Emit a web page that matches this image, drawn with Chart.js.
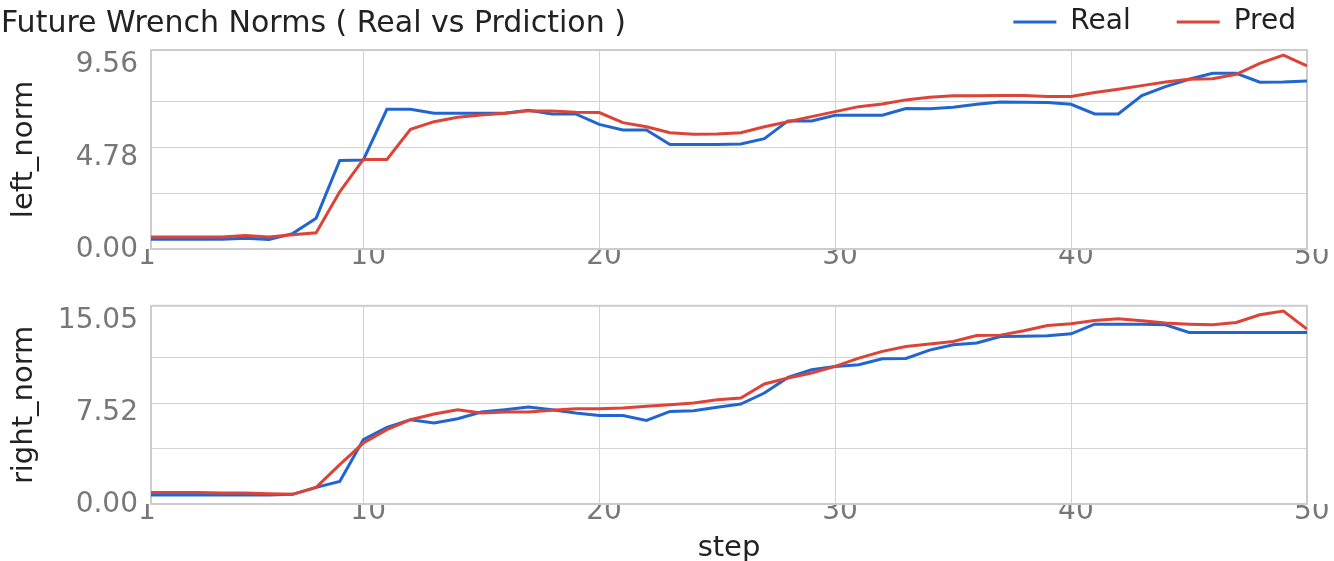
<!DOCTYPE html>
<html>
<head>
<meta charset="utf-8">
<script src="https://cdn.jsdelivr.net/npm/chart.js@4.4.1/dist/chart.umd.min.js"></script>
<style>
  html, body { margin: 0; padding: 0; width: 1334px; height: 561px; overflow: hidden; background: #fff; }
  #title { position: absolute; left: 1px; top: 7px; font-family: "DejaVu Sans"; font-size: 30px; line-height: 30px; color: #222; white-space: nowrap; z-index: 2; }
  .box { position: absolute; left: 0; }
  #topBox { top: -38px; }
  #botBox { top: 276px; }
</style>
</head>
<body>
<div class="box" id="topBox"><canvas id="topChart" width="1342" height="330"></canvas></div>
<div class="box" id="botBox"><canvas id="botChart" width="1334" height="285"></canvas></div>
<div id="title">Future Wrench Norms ( Real vs Prdiction )</div>
<script>
const steps = [1, 2, 3, 4, 5, 6, 7, 8, 9, 10, 11, 12, 13, 14, 15, 16, 17, 18, 19, 20,
  21, 22, 23, 24, 25, 26, 27, 28, 29, 30, 31, 32, 33, 34, 35, 36, 37, 38, 39, 40,
  41, 42, 43, 44, 45, 46, 47, 48, 49, 50];

const realLeft = [0.0, 0.0, 0.0, 0.0, 0.06, 0.0, 0.3, 1.1, 4.1, 4.12,
  6.75, 6.75, 6.55, 6.55, 6.55, 6.55, 6.7, 6.51, 6.51, 5.97,
  5.68, 5.68, 4.92, 4.92, 4.92, 4.95, 5.23, 6.15, 6.15, 6.44,
  6.44, 6.44, 6.79, 6.78, 6.86, 7.01, 7.13, 7.12, 7.1, 7.01,
  6.51, 6.51, 7.46, 7.93, 8.31, 8.62, 8.62, 8.16, 8.17, 8.22];
const predLeft = [0.12, 0.12, 0.12, 0.12, 0.2, 0.12, 0.24, 0.34, 2.47, 4.15,
  4.15, 5.71, 6.11, 6.34, 6.46, 6.55, 6.67, 6.67, 6.6, 6.58,
  6.06, 5.85, 5.54, 5.46, 5.47, 5.54, 5.85, 6.11, 6.37, 6.63,
  6.89, 7.03, 7.24, 7.38, 7.45, 7.45, 7.47, 7.47, 7.42, 7.42,
  7.62, 7.79, 7.98, 8.17, 8.31, 8.34, 8.57, 9.14, 9.56, 9.0];

const realRight = [0.0, 0.0, 0.0, 0.0, 0.0, 0.0, 0.05, 0.62, 1.11, 4.52,
  5.53, 6.16, 5.89, 6.24, 6.79, 6.98, 7.2, 6.98, 6.7, 6.51,
  6.51, 6.1, 6.84, 6.89, 7.17, 7.44, 8.34, 9.62, 10.25, 10.52,
  10.66, 11.15, 11.17, 11.85, 12.29, 12.43, 12.97, 12.99, 13.03, 13.19,
  13.98, 13.98, 13.98, 13.93, 13.3, 13.3, 13.3, 13.3, 13.3, 13.3];
const predRight = [0.21, 0.21, 0.21, 0.16, 0.16, 0.1, 0.05, 0.62, 2.48, 4.25,
  5.34, 6.16, 6.62, 6.98, 6.7, 6.79, 6.79, 6.93, 7.06, 7.06,
  7.11, 7.25, 7.39, 7.52, 7.79, 7.93, 9.08, 9.57, 9.98, 10.52,
  11.2, 11.75, 12.15, 12.35, 12.56, 13.05, 13.08, 13.44, 13.87, 14.01,
  14.28, 14.42, 14.26, 14.07, 13.98, 13.93, 14.12, 14.75, 15.05, 13.58];

const xTicks = [1, 10, 20, 30, 40, 50];
const leftTicks = [0, 2.39, 4.78, 7.17, 9.56];
const leftTickLabels = ["0.00", "", "4.78", "", "9.56"];
const rightTicks = [0, 3.7625, 7.525, 11.2875, 15.05];
const rightTickLabels = ["0.00", "", "7.52", "", "15.05"];

const BLUE = "#2166d0";
const RED = "#dd4336";
const GRID = "#d3d3d3";
const TICK = "#777777";
const INK = "#222222";
const FONT = "DejaVu Sans";

// box round the plot area
const frame = {
  id: "frame",
  beforeDatasetsDraw(chart) {
    const a = chart.chartArea;
    const ctx = chart.ctx;
    ctx.save();
    ctx.strokeStyle = "#cccccc";
    ctx.lineWidth = 2;
    ctx.strokeRect(a.left, a.top, a.right - a.left, a.bottom - a.top);
    ctx.restore();
  }
};

function lineSets(real, pred) {
  return [
    { label: "Real", data: real, borderColor: BLUE, backgroundColor: BLUE, borderWidth: 3, pointRadius: 0, tension: 0, order: 1 },
    { label: "Pred", data: pred, borderColor: RED, backgroundColor: RED, borderWidth: 3, pointRadius: 0, tension: 0, order: 0 }
  ];
}

function xScale(height) {
  return {
    type: "linear",
    min: 1,
    max: 50,
    afterBuildTicks: (s) => { s.ticks = xTicks.map((v) => ({ value: v })); },
    ticks: {
      font: { family: FONT, size: 28 },
      color: TICK,
      padding: -9,
      align: "start",
      labelOffset: -13,
      maxRotation: 0,
      autoSkip: false,
      callback: (v) => String(v)
    },
    grid: {
      color: (c) => (c.tick && (c.tick.value === 1 || c.tick.value === 50)) ? "rgba(0,0,0,0)" : GRID,
      lineWidth: 1,
      drawTicks: false
    },
    border: { display: false },
    afterFit: (s) => { s.height = height; }
  };
}

function yScale(min, max, ticks, labels, title) {
  return {
    type: "linear",
    min: min,
    max: max,
    afterBuildTicks: (s) => { s.ticks = ticks.map((v) => ({ value: v })); },
    ticks: {
      font: { family: FONT, size: 28 },
      color: TICK,
      padding: 13,
      labelOffset: 10,
      autoSkip: false,
      callback: (v, i) => labels[i]
    },
    grid: {
      color: (c) => (c.index === 0 || c.index === ticks.length - 1) ? "rgba(0,0,0,0)" : GRID,
      lineWidth: 1,
      drawTicks: false
    },
    border: { display: false },
    title: {
      display: true,
      text: title,
      color: INK,
      font: { family: FONT, size: 29 },
      padding: { top: 7, bottom: 0 }
    },
    afterFit: (s) => { s.width = 151; }
  };
}

function spacer(axis, position, size) {
  return {
    type: "linear",
    axis: axis,
    position: position,
    display: true,
    grid: { display: false },
    ticks: { display: false },
    border: { display: false },
    afterFit: (s) => { if (axis === "x") s.height = size; else s.width = size; }
  };
}

new Chart(document.getElementById("topChart"), {
  type: "line",
  data: { labels: steps, datasets: lineSets(realLeft, predLeft) },
  options: {
    responsive: false,
    animation: false,
    layout: { padding: 0 },
    plugins: {
      title: { display: false },
      tooltip: { enabled: false },
      legend: {
        display: true,
        position: "top",
        align: "end",
        labels: {
          usePointStyle: true,
          pointStyle: "line",
          pointStyleWidth: 43,
          padding: 46,
          color: INK,
          font: { family: FONT, size: 28 },
          sort: (a, b) => a.datasetIndex - b.datasetIndex
        }
      }
    },
    scales: {
      x: xScale(43),
      y: yScale(-0.5, 9.83, leftTicks, leftTickLabels, "left_norm"),
      xTop: spacer("x", "top", 4),
      yRight: spacer("y", "right", 35)
    }
  },
  plugins: [frame]
});

new Chart(document.getElementById("botChart"), {
  type: "line",
  data: { labels: steps, datasets: lineSets(realRight, predRight) },
  options: {
    responsive: false,
    animation: false,
    layout: { padding: { top: 0, right: 27, left: 0, bottom: 0 } },
    plugins: {
      legend: { display: false },
      tooltip: { enabled: false }
    },
    scales: {
      x: Object.assign(xScale(57), {
        title: {
          display: true,
          text: "step",
          color: INK,
          font: { family: FONT, size: 29 },
          padding: { top: 0, bottom: -5 }
        }
      }),
      y: yScale(-0.74, 15.48, rightTicks, rightTickLabels, "right_norm")
    }
  },
  plugins: [frame]
});
</script>
</body>
</html>
